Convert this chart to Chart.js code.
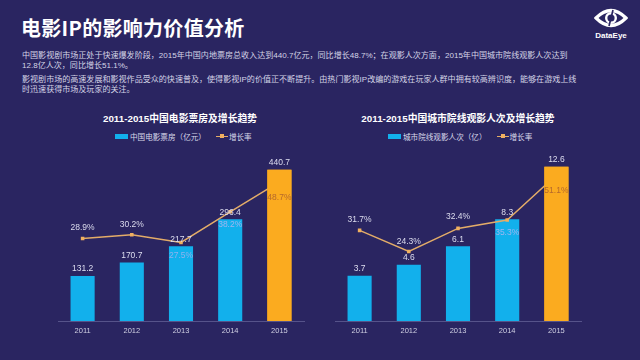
<!DOCTYPE html>
<html>
<head>
<meta charset="utf-8">
<script src="https://cdn.jsdelivr.net/npm/chart.js@4.4.1/dist/chart.umd.min.js"></script>
<style>
    body { margin: 0; width: 640px; height: 360px; background: #2a2561; overflow: hidden; position: relative;
           font-family: "Liberation Sans", "Noto Sans CJK SC", sans-serif; color: #d8d8ea; }
    .title { position: absolute; left: 21px; top: 13px; font-size: 20px; font-weight: bold; color: #fff;
             font-family: "Noto Sans CJK SC", sans-serif; letter-spacing: 0.3px; }
    .intro { position: absolute; left: 22px; top: 51px; font-size: 8.05px; line-height: 10px; color: #d4d4e6;
             font-family: "Liberation Sans", "Noto Sans CJK SC", sans-serif; white-space: nowrap; }
    .intro p { margin: 0 0 4px 0; }
    .logo { position: absolute; left: 591px; top: 7px; width: 40px; text-align: center; color: #fff;
            font-size: 8px; font-weight: bold; line-height: 9px; }
    .chart-title { position: absolute; top: 111px; font-size: 9.8px; font-weight: bold; color: #fff;
                   font-family: "Liberation Sans", "Noto Sans CJK SC", sans-serif; transform: translateX(-50%); white-space: nowrap; }
    .legend { position: absolute; top: 131px; font-size: 7.6px; color: #d8d8ea; white-space: nowrap;
              font-family: "Noto Sans CJK SC", sans-serif; display: flex; align-items: center; }
    .sw-bar { display: inline-block; width: 13px; height: 5px; background: #12b0ec; margin-right: 2px; }
    .sw-line { display: inline-block; width: 12px; height: 1.5px; background: #e3ac68; position: relative; margin: 0 1px 0 10px; }
    .sw-line::after { content: ""; position: absolute; left: 4px; top: -1.5px; width: 4px; height: 4px; background: #f0b060; }
    canvas { position: absolute; }
</style>
</head>
<body>
<div class="title">电影IP的影响力价值分析</div>
<div class="logo">
    <svg width="34" height="22" viewBox="0 0 34 22">
        <path d="M2 11 Q17 -4 32 11 Q17 26 2 11 Z" fill="none" stroke="#fff" stroke-width="3.2"/>
        <circle cx="17" cy="11" r="4.8" fill="none" stroke="#fff" stroke-width="2.4"/>
        <line x1="19" y1="3" x2="15" y2="19" stroke="#2a2561" stroke-width="1.7"/>
    </svg>
    <div>DataEye</div>
</div>
<div class="intro">
    <p>中国影视剧市场正处于快速爆发阶段，2015年中国内地票房总收入达到440.7亿元，同比增长48.7%；在观影人次方面，2015年中国城市院线观影人次达到<br>12.8亿人次，同比增长51.1%。</p>
    <p>影视剧市场的高速发展和影视作品受众的快速普及，使得影视IP的价值正不断提升。由热门影视IP改编的游戏在玩家人群中拥有较高辨识度，能够在游戏上线<br>时迅速获得市场及玩家的关注。</p>
</div>

<div class="chart-title" style="left:180px">2011-2015中国电影票房及增长趋势</div>
<div class="legend" style="left:115px"><span class="sw-bar"></span>中国电影票房（亿元）<span class="sw-line"></span>增长率</div>
<canvas id="boxChart" width="266" height="200" style="left:48px; top:140px"></canvas>

<div class="chart-title" style="left:458px">2011-2015中国城市院线观影人次及增长趋势</div>
<div class="legend" style="left:388px"><span class="sw-bar"></span>城市院线观影人次（亿）<span class="sw-line"></span>增长率</div>
<canvas id="seatChart" width="266" height="200" style="left:325px; top:140px"></canvas>

<script>
// Values
const years = ["2011", "2012", "2013", "2014", "2015"];
const boxOffice = [131.2, 170.7, 217.7, 296.4, 440.7];       // 亿元
const boxOfficeGrowth = [28.9, 30.2, 27.5, 38.2, 48.7];       // %
const admissions = [3.7, 4.6, 6.1, 8.3, 12.6];               // 亿人次
const admissionsGrowth = [31.7, 24.3, 32.4, 35.3, 51.1];      // %

const BLUE = "#12b0ec";
const ORANGE = "#fbab1f";
const LINE = "#e3ac68";
const FONT = "\"Liberation Sans\", \"Noto Sans CJK SC\", sans-serif";

// Draws the value labels, and puts the highlighted last bar back over the line
const valueLabels = {
    id: "valueLabels",
    afterDatasetsDraw(chart, args, opts) {
        const ctx = chart.ctx;
        const barMeta = chart.getDatasetMeta(0);
        const lineMeta = chart.getDatasetMeta(1);
        barMeta.data[barMeta.data.length - 1].draw(ctx);

        ctx.save();
        ctx.font = "8.5px " + FONT;
        ctx.textAlign = "center";
        ctx.textBaseline = "middle";
        barMeta.data.forEach((bar, i) => {
            ctx.fillStyle = "#dedef0";
            ctx.fillText(chart.data.datasets[0].data[i].toFixed(1), bar.x, bar.y - 7);
        });
        lineMeta.data.forEach((pt, i) => {
            ctx.fillStyle = opts.colors[i];
            ctx.fillText(chart.data.datasets[1].data[i].toFixed(1) + "%", pt.x, pt.y + opts.offsets[i]);
        });
        ctx.restore();
    }
};

function makeChart(id, bars, rates, barMax, barLabel, labelOpts) {
    const ctx = document.getElementById(id).getContext("2d");
    return new Chart(ctx, {
        type: "bar",
        data: {
            labels: years,
            datasets: [
                {
                    label: barLabel,
                    data: bars,
                    backgroundColor: years.map((y, i) => i === years.length - 1 ? ORANGE : BLUE),
                    categoryPercentage: 1,
                    barPercentage: 0.49,
                    yAxisID: "y",
                    order: 1
                },
                {
                    type: "line",
                    label: "增长率",
                    data: rates,
                    borderColor: LINE,
                    borderWidth: 1.5,
                    pointStyle: "rect",
                    pointRadius: 2.5,
                    pointBackgroundColor: "#f0b060",
                    pointBorderWidth: 0,
                    tension: 0,
                    yAxisID: "y1",
                    order: 0
                }
            ]
        },
        options: {
            responsive: false,
            animation: false,
            devicePixelRatio: 1,
            layout: { padding: { left: 10, right: 10, top: 9.5, bottom: 0 } },
            plugins: {
                legend: { display: false },
                tooltip: { enabled: false },
                valueLabels: labelOpts
            },
            scales: {
                x: {
                    grid: { display: false, drawTicks: false },
                    border: { display: true, color: "#56538a", width: 1 },
                    ticks: { color: "#cfcfe2", font: { size: 7.5, family: FONT }, padding: 5 },
                    afterFit: (scale) => { scale.height = 19; }
                },
                y: { display: false, min: 0, max: barMax },
                y1: { display: false, min: 0, max: 60 }
            }
        },
        plugins: [valueLabels]
    });
}

makeChart("boxChart", boxOffice, boxOfficeGrowth, 500, "中国电影票房（亿元）", {
    offsets: [-11, -10, 13, 13, 16],
    colors: ["#dcdcee", "#dcdcee", "#8fb2ee", "#9db6f0", "#b5692c"]
});
makeChart("seatChart", admissions, admissionsGrowth, 14, "城市院线观影人次（亿）", {
    offsets: [-11, -10, -12, 13, 16],
    colors: ["#dcdcee", "#dcdcee", "#dcdcee", "#9db6f0", "#b5692c"]
});
</script>
</body>
</html>
